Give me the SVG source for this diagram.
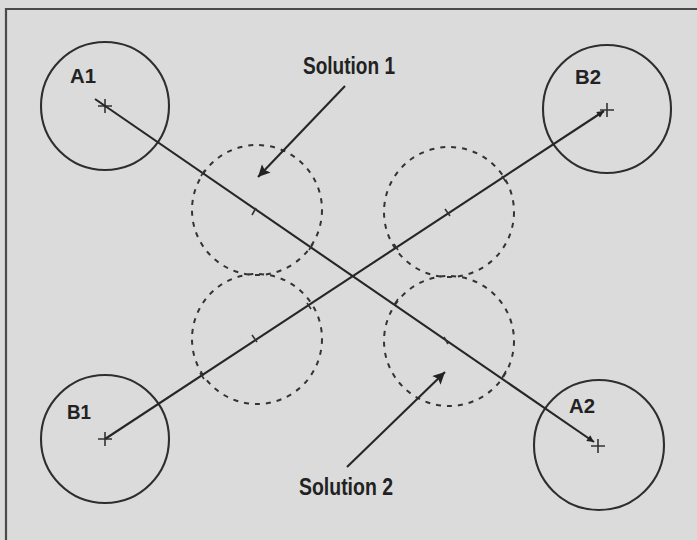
<svg xmlns="http://www.w3.org/2000/svg" width="697" height="540" viewBox="0 0 697 540">
<defs>
<style>
.bg{fill:#dbdbdb}
.frame{fill:none;stroke:#4a4a4a;stroke-width:2.2}
.c{fill:none;stroke:#2e2e2e;stroke-width:2.1}
.d{fill:none;stroke:#333;stroke-width:2;stroke-dasharray:5 6}
.ln{fill:none;stroke:#262626;stroke-width:2.1}
.tk{fill:none;stroke:#333;stroke-width:1.6}
.lbl{font-family:"Liberation Sans",Arial,sans-serif;font-weight:bold;font-size:21px;fill:#222}
.sol{font-family:"Liberation Sans",Arial,sans-serif;font-weight:bold;font-size:23px;fill:#222}
</style>
<marker id="ah" viewBox="0 0 10 10" refX="10" refY="5" markerWidth="12" markerHeight="7" markerUnits="userSpaceOnUse" orient="auto">
<path d="M0,0 L10,5 L0,10 Z" fill="#222"/>
</marker>
<marker id="bh" viewBox="0 0 10 10" refX="10" refY="5" markerWidth="24" markerHeight="12" markerUnits="userSpaceOnUse" orient="auto">
<path d="M0,0 L10,5 L0,10 L2,5 Z" fill="#222"/>
</marker>
</defs>
<rect class="bg" x="0" y="0" width="697" height="540"/>
<path class="frame" d="M6,545 L6,9 L700,9"/>

<g id="A1">
<circle class="c" cx="105" cy="106" r="64"/>
<path class="tk" d="M98,106 L112,106 M105,99 L105,113"/>
<text class="lbl" x="70" y="83" textLength="26" lengthAdjust="spacingAndGlyphs">A1</text>
</g>
<g id="B2">
<circle class="c" cx="607" cy="109" r="64"/>
<path class="tk" d="M600,110 L614,110 M607,103 L607,117"/>
<text class="lbl" x="575" y="84" textLength="26" lengthAdjust="spacingAndGlyphs">B2</text>
</g>
<g id="B1">
<circle class="c" cx="105" cy="439" r="64"/>
<path class="tk" d="M98,439 L112,439 M105,432 L105,446"/>
<text class="lbl" x="67" y="419" textLength="24" lengthAdjust="spacingAndGlyphs">B1</text>
</g>
<g id="A2">
<circle class="c" cx="599" cy="445" r="65"/>
<path class="tk" d="M591,446 L605,446 M598,439 L598,453"/>
<text class="lbl" x="569" y="413" textLength="26" lengthAdjust="spacingAndGlyphs">A2</text>
</g>

<g id="dashed">
<circle class="d" cx="257" cy="210" r="65"/>
<circle class="d" cx="449" cy="212" r="65"/>
<circle class="d" cx="257" cy="339" r="65"/>
<circle class="d" cx="449" cy="341" r="65"/>
</g>

<g id="connectors">
<line class="ln" x1="95" y1="99" x2="594" y2="442" marker-end="url(#ah)"/>
<line class="ln" x1="105" y1="439" x2="604" y2="111" marker-end="url(#ah)"/>
<line class="ln" x1="345" y1="86" x2="258" y2="177" marker-end="url(#bh)"/>
<line class="ln" x1="347" y1="467" x2="445" y2="372" marker-end="url(#bh)"/>
</g>

<g id="ticks">
<path class="tk" d="M252,215 L256,208 M201,176 L205,170 M309,250 L313,244"/>
<path class="tk" d="M444,337 L448,344 M394,305 L398,299 M502,378 L506,371"/>
<path class="tk" d="M445,209 L450,216 M394,244 L398,250 M502,176 L506,182"/>
<path class="tk" d="M252,335 L257,342 M200,373 L204,379 M307,303 L311,309"/>
</g>

<g id="solution1">
<text class="sol" x="303" y="74" textLength="92" lengthAdjust="spacingAndGlyphs">Solution 1</text>
</g>
<g id="solution2">
<text class="sol" x="299" y="495" textLength="94" lengthAdjust="spacingAndGlyphs">Solution 2</text>
</g>
</svg>
